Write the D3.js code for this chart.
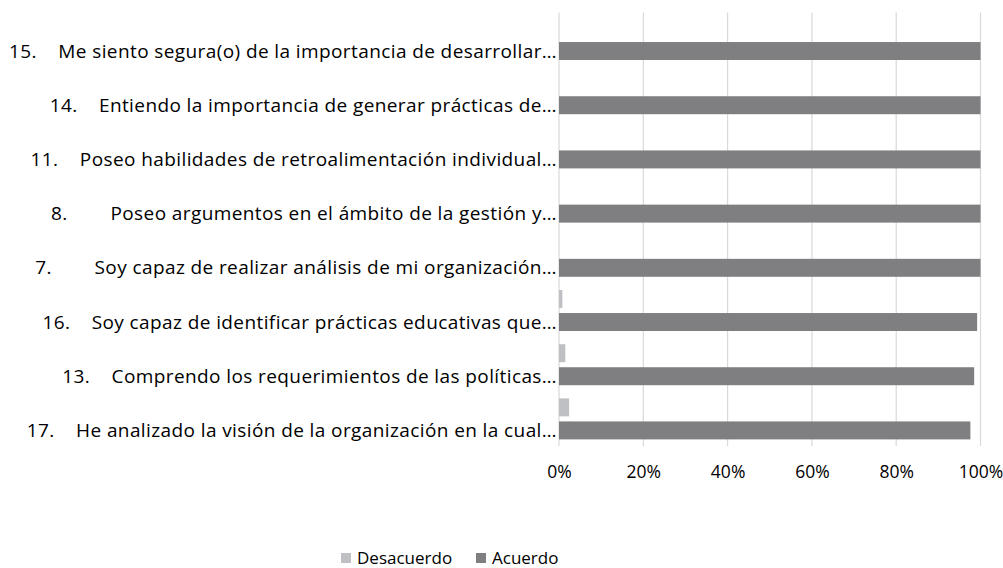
<!DOCTYPE html>
<html>
<head>
<meta charset="utf-8">
<script src="https://cdn.jsdelivr.net/npm/d3@7"></script>
<style>
  body { margin: 0; background: #fff; }
  svg text { font-family: "Open Sans", Lato, sans-serif; fill: #000; }
</style>
</head>
<body>
<div id="chart"></div>
<script>
var width = 1003, height = 568;

// categories top to bottom, as printed on the axis
var categories = [
  "15.\u00a0\u00a0\u00a0\u00a0Me siento segura(o) de la importancia de desarrollar…",
  "14.\u00a0\u00a0\u00a0\u00a0Entiendo la importancia de generar prácticas de…",
  "11.\u00a0\u00a0\u00a0\u00a0Poseo habilidades de retroalimentación individual…",
  "8.\u00a0\u00a0\u00a0\u00a0\u00a0\u00a0\u00a0\u00a0Poseo argumentos en el ámbito de la gestión y…",
  "7.\u00a0\u00a0\u00a0\u00a0\u00a0\u00a0\u00a0\u00a0Soy capaz de realizar análisis de mi organización…",
  "16.\u00a0\u00a0\u00a0\u00a0Soy capaz de identificar prácticas educativas que…",
  "13.\u00a0\u00a0\u00a0\u00a0Comprendo los requerimientos de las políticas…",
  "17.\u00a0\u00a0\u00a0\u00a0He analizado la visión de la organización en la cual…"
];
var seriesNames = ["Desacuerdo", "Acuerdo"];
var desacuerdo = [0, 0, 0, 0, 0, 0.8, 1.5, 2.4];
var acuerdo = [100, 100, 100, 100, 100, 99.2, 98.5, 97.6];
var tickValues = [0, 20, 40, 60, 80, 100];

var colors = {"Desacuerdo": "#bfc0c4", "Acuerdo": "#7f7f82"};

var plot = {left: 559, right: 980.5, top: 12.4, bottom: 446};

var svg = d3.select("#chart").append("svg")
    .attr("width", width)
    .attr("height", height);

var x = d3.scaleLinear()
    .domain([0, 100])
    .range([plot.left, plot.right]);

var y = d3.scaleBand()
    .domain(categories)
    .range([plot.top, plot.bottom])
    .paddingInner(0.2435)
    .paddingOuter(0.12175);

var ySub = d3.scaleBand()
    .domain(seriesNames)
    .range([0, y.bandwidth()])
    .paddingInner(0.22);

var rows = categories.map(function(c, i) {
    return {cat: c, values: [
        {name: "Desacuerdo", v: desacuerdo[i]},
        {name: "Acuerdo", v: acuerdo[i]}
    ]};
});

// gridlines
svg.append("g")
    .selectAll("line")
    .data(tickValues)
    .enter().append("line")
    .attr("x1", function(d) { return x(d); })
    .attr("x2", function(d) { return x(d); })
    .attr("y1", plot.top)
    .attr("y2", plot.bottom)
    .attr("stroke", "#d9d9d9")
    .attr("stroke-width", 1.2);

// bars
var groups = svg.append("g")
    .selectAll("g")
    .data(rows)
    .enter().append("g")
    .attr("transform", function(d) { return "translate(0," + y(d.cat) + ")"; });

groups.selectAll("rect")
    .data(function(d) { return d.values; })
    .enter().append("rect")
    .attr("x", x(0))
    .attr("y", function(d) { return ySub(d.name); })
    .attr("width", function(d) { return x(d.v) - x(0); })
    .attr("height", ySub.bandwidth())
    .attr("fill", function(d) { return colors[d.name]; });

// category labels
svg.append("g")
    .selectAll("text")
    .data(categories)
    .enter().append("text")
    .attr("x", 557)
    .attr("y", function(d) { return y(d) + ySub("Acuerdo") + ySub.bandwidth() / 2 + 6.5; })
    .attr("text-anchor", "end")
    .style("font-size", "19px")
    .style("letter-spacing", "0.4px")
    .style("white-space", "pre")
    .text(function(d) { return d; });

// x axis labels
var xAxis = d3.axisBottom(x)
    .tickValues(tickValues)
    .tickSize(0)
    .tickPadding(0)
    .tickFormat(function(d) { return d + "%"; });

var ax = svg.append("g")
    .attr("transform", "translate(0," + 478 + ")")
    .call(xAxis);
ax.select(".domain").remove();
ax.selectAll("text")
    .attr("dy", 0)
    .style("font-size", "17.5px")
    .style("font-family", "'Open Sans', sans-serif")
    .attr("fill", "#000");

// legend
var legendItems = [
    {name: "Desacuerdo", sx: 341, tx: 357},
    {name: "Acuerdo", sx: 476, tx: 492}
];
var lg = svg.append("g");
lg.selectAll("rect")
    .data(legendItems)
    .enter().append("rect")
    .attr("x", function(d) { return d.sx; })
    .attr("y", 553)
    .attr("width", 10)
    .attr("height", 10)
    .attr("fill", function(d) { return colors[d.name]; });
lg.selectAll("text")
    .data(legendItems)
    .enter().append("text")
    .attr("x", function(d) { return d.tx; })
    .attr("y", 564)
    .style("font-size", "17px")
    .text(function(d) { return d.name; });
</script>
</body>
</html>
